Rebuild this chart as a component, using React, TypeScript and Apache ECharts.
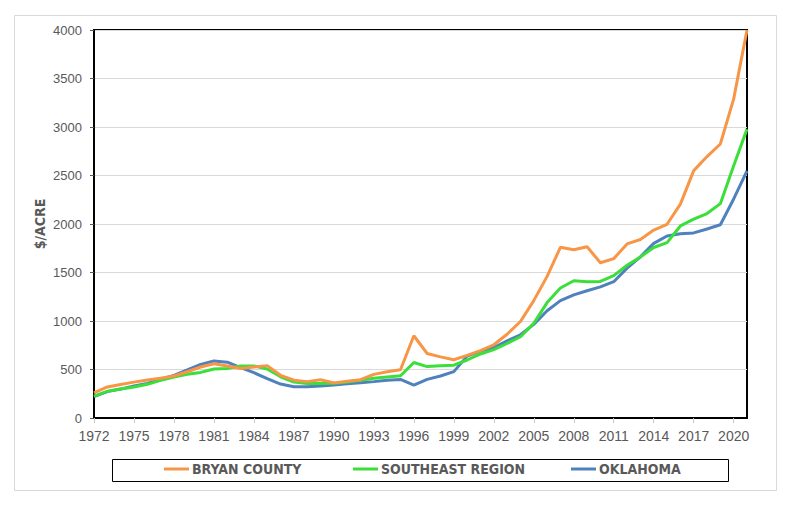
import React, { useEffect, useRef } from "react";
import * as echarts from "echarts";

const years: string[] = [];
for (let y = 1972; y <= 2021; y++) years.push(String(y));

const bryanCounty = [
  260, 320, 345, 370, 392, 410, 433, 477, 526, 560,
  536, 510, 525, 540, 440, 390, 375, 395, 362, 380,
  395, 450, 477, 497, 848, 665, 630, 600, 645, 695,
  755, 863, 995, 1210, 1460, 1760, 1735, 1765, 1600, 1643,
  1795, 1840, 1938, 1997, 2205, 2550, 2695, 2825, 3290, 4000,
];

const southeastRegion = [
  225, 275, 298, 320, 347, 388, 423, 450, 470, 505,
  510, 536, 536, 505, 425, 370, 355, 355, 357, 372,
  390, 410, 423, 435, 572, 530, 538, 545, 598, 660,
  705, 768, 838, 975, 1190, 1340, 1415, 1405, 1408, 1468,
  1575, 1660, 1758, 1808, 1980, 2050, 2108, 2210, 2600, 2978,
];

const oklahoma = [
  220, 272, 298, 330, 357, 399, 440, 495, 553, 588,
  575, 520, 467, 405, 350, 322, 323, 330, 340, 353,
  363, 375, 388, 398, 340, 398, 433, 478, 638, 690,
  727, 795, 858, 965, 1105, 1210, 1270, 1312, 1352, 1405,
  1545, 1662, 1800, 1876, 1900, 1908, 1948, 1992, 2258, 2548,
];

const seriesNames = ["BRYAN COUNTY", "SOUTHEAST REGION", "OKLAHOMA"];
const seriesColors = ["#F79646", "#3ADF3A", "#4F81BD"];
const legendLeft = [164, 353, 571];

const labelFont = "'Liberation Sans', Arial, sans-serif";
const narrowFont = "'Liberation Sans Narrow', 'Arial Narrow', 'DejaVu Sans Condensed', sans-serif";

export default function App() {
  const ref = useRef<HTMLDivElement>(null);

  useEffect(() => {
    if (!ref.current) return;
    const chart = echarts.init(ref.current, undefined, { renderer: "svg" });
    const dataSets = [bryanCounty, southeastRegion, oklahoma];
    chart.setOption({
      animation: false,
      backgroundColor: "#ffffff",
      grid: {
        left: 94,
        right: 39,
        top: 30,
        bottom: 88,
        show: true,
        borderColor: "#000000",
        borderWidth: 2,
        backgroundColor: "transparent",
      },
      xAxis: {
        type: "category",
        data: years,
        boundaryGap: false,
        axisLine: { show: true, lineStyle: { color: "#000000", width: 2 } },
        axisTick: {
          show: true,
          interval: 2,
          length: 5,
          lineStyle: { color: "#c8c8c8", width: 1 },
        },
        axisLabel: {
          interval: 2,
          margin: 11,
          color: "#595959",
          fontSize: 14,
          fontFamily: labelFont,
        },
        splitLine: { show: false },
      },
      yAxis: {
        type: "value",
        min: 0,
        max: 4000,
        interval: 500,
        axisLine: { show: true, lineStyle: { color: "#000000", width: 2 } },
        axisTick: { show: true, length: 4, lineStyle: { color: "#595959", width: 1 } },
        axisLabel: {
          margin: 12,
          color: "#595959",
          fontSize: 13,
          fontFamily: labelFont,
          formatter: (v: number) => String(v),
        },
        splitLine: { show: true, lineStyle: { color: "#d9d9d9", width: 1 } },
      },
      legend: seriesNames.map((name, i) => ({
        data: [name],
        left: legendLeft[i],
        top: 462,
        padding: 0,
        itemWidth: 25,
        itemHeight: 3,
        icon: "rect",
        textStyle: {
          color: "#595959",
          fontSize: 14,
          fontWeight: "bold",
          fontFamily: narrowFont,
          padding: [0, 0, 0, -2],
        },
      })),
      graphic: [
        {
          type: "rect",
          silent: true,
          z: -10,
          shape: { x: 14.5, y: 15.5, width: 762, height: 475 },
          style: { fill: "none", stroke: "#d9d9d9", lineWidth: 1 },
        },
        {
          type: "rect",
          silent: true,
          shape: { x: 112.5, y: 459.5, width: 616, height: 22 },
          style: { fill: "none", stroke: "#000000", lineWidth: 1 },
        },
        {
          type: "text",
          x: 40,
          y: 224,
          rotation: Math.PI / 2,
          style: {
            text: "$/ACRE",
            fill: "#595959",
            font: "bold 14px " + narrowFont,
            align: "center",
            verticalAlign: "middle",
          },
        },
      ],
      series: seriesNames.map((name, i) => ({
        name,
        type: "line",
        data: dataSets[i],
        symbol: "none",
        showSymbol: false,
        smooth: false,
        lineStyle: { color: seriesColors[i], width: 3 },
        itemStyle: { color: seriesColors[i] },
        z: 3 - i + 2,
      })),
    });
    return () => chart.dispose();
  }, []);

  return (
    <div
      ref={ref}
      style={{ position: "fixed", left: 0, top: 0, width: 786, height: 506, background: "#ffffff" }}
    />
  );
}
